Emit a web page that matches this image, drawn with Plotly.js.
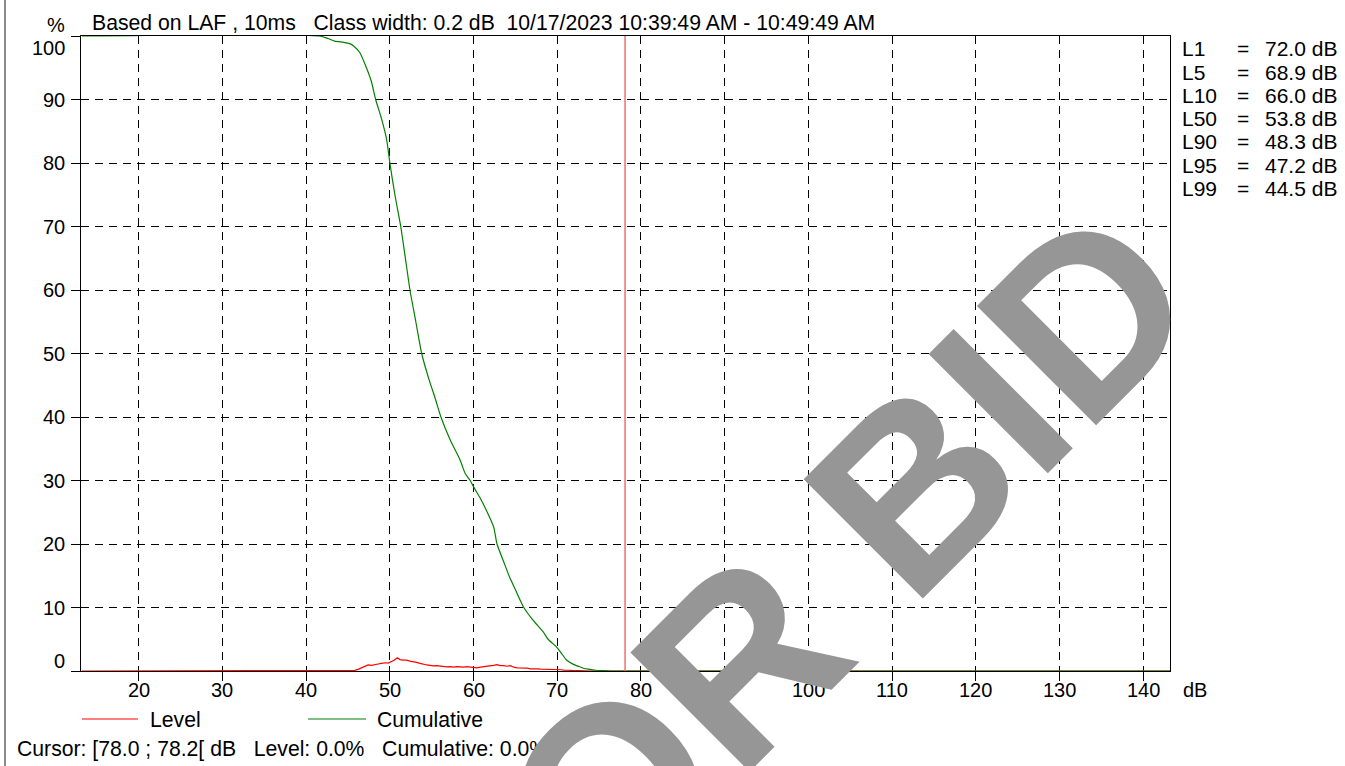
<!DOCTYPE html>
<html>
<head>
<meta charset="utf-8">
<script src="https://cdn.plot.ly/plotly-3.0.1.min.js"></script>
<style>
  html, body { margin: 0; padding: 0; background: #fff; }
  #wrap { position: relative; width: 1345px; height: 766px; }
  #chart { position: absolute; left: 0; top: 0; width: 1345px; height: 766px; }
  #frame { position: absolute; left: 4px; top: 0; width: 2px; height: 766px; background: #8a8a8a; }
</style>
</head>
<body>
<div id="wrap"><div id="chart"></div><div id="frame"></div></div>
<script>
// ---------------- data ----------------
const xTicks = [20, 30, 40, 50, 60, 70, 80, 90, 100, 110, 120, 130, 140];
const yTicks = [0, 10, 20, 30, 40, 50, 60, 70, 80, 90, 100];

const levelDb = [13.2, 41.8, 42.4, 43.0, 45.2, 45.8, 46.2, 46.6, 47.0, 47.4, 47.8, 48.2, 48.6, 49.0, 49.4, 49.8,
  50.2, 50.5, 50.9, 51.2, 51.6, 52.0, 52.4, 52.8, 53.2, 53.6, 54.0, 54.4, 54.8, 55.2, 55.6, 56.0, 56.4, 56.8,
  57.2, 57.6, 58.0, 58.4, 58.8, 59.2, 59.6, 60.0, 60.4, 60.8, 61.2, 61.6, 62.0, 62.4, 62.8, 63.2, 63.6, 64.0,
  64.4, 64.8, 65.2, 65.6, 66.0, 66.4, 66.8, 67.2, 67.6, 68.0, 68.4, 68.8, 69.2, 69.6, 70.0, 70.4, 70.8, 71.2,
  71.6, 72.0, 72.6, 73.2, 74.0, 143.2];
const levelPct = [0, 0, 0.06, 0.02, 0, 0.1, 0.25, 0.5, 0.8, 0.95, 0.9, 0.95, 1.1, 1.2, 1.3, 1.25,
  1.45, 1.7, 2.1, 1.8, 1.7, 1.7, 1.55, 1.5, 1.35, 1.2, 1.05, 0.95, 0.9, 0.8, 0.85, 0.75, 0.75, 0.65,
  0.7, 0.6, 0.7, 0.65, 0.6, 0.7, 0.6, 0.55, 0.5, 0.6, 0.65, 0.75, 0.8, 0.9, 1.0, 0.85, 0.85, 0.75,
  0.85, 0.6, 0.5, 0.5, 0.4, 0.45, 0.35, 0.4, 0.35, 0.3, 0.3, 0.25, 0.3, 0.25, 0.2, 0.2, 0.15, 0.1,
  0.1, 0.08, 0.05, 0.02, 0, 0];

const cumDb = [13.2, 41.6, 42.6, 43.4, 44.5, 45.2, 45.7, 46.4, 47.2, 47.8, 48.3, 49.0, 49.6, 50.0, 50.6,
  51.3, 51.8, 52.4, 53.1, 53.8, 54.7, 55.4, 56.1, 57.2, 58.4, 59.0, 59.6, 60.0, 60.8, 61.6, 62.4, 62.8,
  63.6, 64.3, 65.0, 66.0, 67.1, 67.5, 68.3, 68.9, 69.9, 70.6, 71.1, 72.0, 72.6, 73.2, 73.9, 74.6, 75.5,
  76.4, 143.2];
const cumPct = [100, 100, 99.6, 99.2, 99.0, 98.8, 98.4, 97.4, 95.0, 92.8, 90.0, 87.0, 83.8, 80.0, 75.0,
  70.0, 65.5, 60.0, 55.0, 50.0, 45.8, 43.0, 40.0, 36.4, 33.2, 31.1, 30.0, 29.0, 27.2, 25.1, 22.7, 20.0,
  17.2, 14.8, 12.8, 10.0, 8.0, 7.4, 6.2, 5.0, 3.8, 2.6, 1.73, 1.0, 0.7, 0.4, 0.26, 0.12, 0.05,
  0, 0];

const cursorDb = 78.1;
const cursorSpan = [0, 100];

const statLabels = ["L1", "L5", "L10", "L50", "L90", "L95", "L99"];
const statValues = ["72.0 dB", "68.9 dB", "66.0 dB", "53.8 dB", "48.3 dB", "47.2 dB", "44.5 dB"];

const headerText = "Based on LAF , 10ms\u00a0\u00a0\u00a0Class width: 0.2 dB\u00a0\u00a010/17/2023 10:39:49 AM - 10:49:49 AM";
const cursorText = "Cursor: [78.0 ; 78.2[ dB\u00a0\u00a0\u00a0Level: 0.0%\u00a0\u00a0\u00a0Cumulative: 0.0%";
const seriesNames = ["Level", "Cumulative"];
const watermark = "FOR BID";

// ---------------- layout helpers ----------------
const W = 1345, H = 766;
const L = 81, R = 1170, T = 36, B = 671;
const px = x => (x - L) / (R - L);
const py = y => (B - y) / (B - T);
const FONT = "Arial, 'Liberation Sans', sans-serif";
const FS = 20;
const FS2 = 21.2;

const traces = [
  { x: levelDb, y: levelPct, type: "scatter", mode: "lines", name: seriesNames[0],
    line: { color: "#ff0000", width: 1.2 }, hoverinfo: "x+y" },
  { x: cumDb, y: cumPct, type: "scatter", mode: "lines", name: seriesNames[1],
    line: { color: "#008000", width: 1.2, shape: "spline", smoothing: 0.6 }, hoverinfo: "x+y" },
  { x: [cursorDb, cursorDb], y: cursorSpan, type: "scatter", mode: "lines", name: "Cursor",
    line: { color: "rgb(240,110,110)", width: 1.5 }, hoverinfo: "skip" }
];

const annotations = [];
function txt(text, x, y, xanchor, size) {
  annotations.push({ text: text, xref: "paper", yref: "paper", x: px(x), y: py(y),
    xanchor: xanchor, yanchor: "middle", showarrow: false,
    font: { family: FONT, size: size || FS, color: "#000" } });
}

// y tick labels
yTicks.forEach(v => {
  let shift = 0;
  if (v === 0) shift = 10;
  if (v === 100) shift = -12;
  annotations.push({ text: String(v), xref: "paper", yref: "y", x: px(67), y: v, xanchor: "right",
    yanchor: "middle", yshift: shift, showarrow: false, font: { family: FONT, size: FS, color: "#000" } });
});
// x tick labels
xTicks.forEach(v => {
  annotations.push({ text: String(v), xref: "x", yref: "paper", x: v, y: py(690), xanchor: "center",
    yanchor: "middle", showarrow: false, font: { family: FONT, size: FS, color: "#000" } });
});

txt("%", 56, 25, "center", FS);
txt(headerText, 90, 22, "left", FS2);
txt("dB", 1181, 690, "left", FS);

statLabels.forEach((lab, i) => {
  const y = 49 + 23.2 * i;
  txt(lab, 1180, y, "left", 21);
  txt("=", 1243, y, "center", 21);
  txt(statValues[i], 1339, y, "right", 21);
});

// legend
txt(seriesNames[0], 148, 719, "left", FS2);
txt(seriesNames[1], 375, 719, "left", FS2);
txt(cursorText, 15, 749, "left", FS2);

// watermark
annotations.push({ text: "<b>" + watermark + "</b>", xref: "paper", yref: "paper", x: px(793), y: py(608),
  xanchor: "center", yanchor: "middle", showarrow: false, textangle: -45,
  font: { family: FONT, size: 245, color: "rgb(150,150,150)" } });

const shapes = [
  { type: "line", xref: "paper", yref: "paper", x0: px(82), x1: px(138), y0: py(719), y1: py(719),
    line: { color: "#ff0000", width: 1.2 } },
  { type: "line", xref: "paper", yref: "paper", x0: px(308), x1: px(366), y0: py(719), y1: py(719),
    line: { color: "#008000", width: 1.2 } }
];

const layout = {
  width: W, height: H,
  margin: { l: L, r: W - R, t: T, b: H - B, pad: 0 },
  paper_bgcolor: "#fff", plot_bgcolor: "#fff",
  showlegend: false,
  font: { family: FONT, size: FS, color: "#000" },
  xaxis: {
    range: [13.1, 143.2], tickvals: xTicks, showticklabels: false,
    showgrid: true, gridcolor: "#000", griddash: "8px,6px", gridwidth: 1,
    showline: true, linecolor: "#000", linewidth: 1, mirror: true,
    ticks: "outside", ticklen: 9, tickcolor: "#000", tickwidth: 1,
    zeroline: false, fixedrange: true
  },
  yaxis: {
    range: [0, 100], tickvals: yTicks, showticklabels: false,
    showgrid: true, gridcolor: "#000", griddash: "8px,6px", gridwidth: 1,
    showline: true, linecolor: "#000", linewidth: 1, mirror: true,
    ticks: "outside", ticklen: 9, tickcolor: "#000", tickwidth: 1,
    zeroline: false, fixedrange: true
  },
  annotations: annotations,
  shapes: shapes
};

Plotly.newPlot("chart", traces, layout, { displayModeBar: false, staticPlot: true });
</script>
</body>
</html>
